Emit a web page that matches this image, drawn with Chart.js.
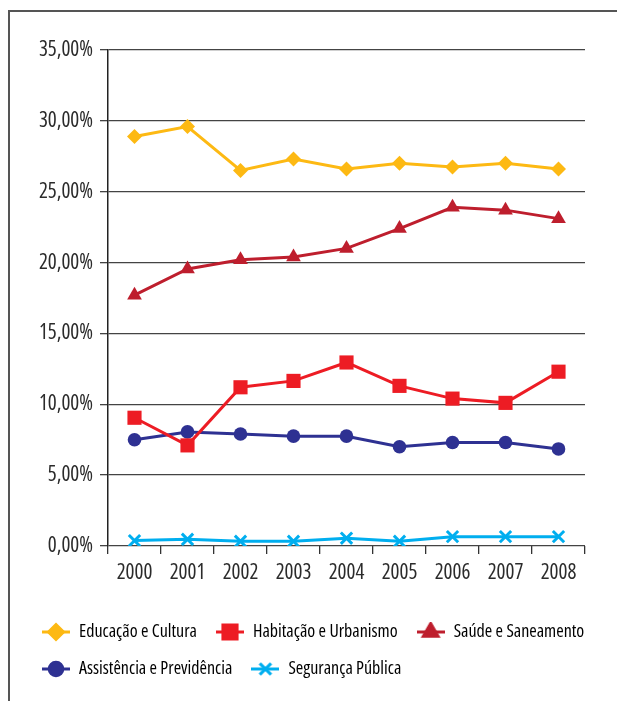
<!DOCTYPE html>
<html>
<head>
<meta charset="utf-8">
<script src="https://cdn.jsdelivr.net/npm/chart.js@4/dist/chart.umd.min.js"></script>
<style>
  body { margin: 0; background: #fff; }
  .wrap { position: relative; width: 617px; height: 701px; }
  .frame { position: absolute; left: 8px; top: 10px; right: 0; bottom: 0; border-left: 2px solid #555; border-top: 2px solid #555; }
  canvas { position: absolute; left: 0; top: 0; }
</style>
</head>
<body>
<div class="wrap">
  <div class="frame"></div>
  <canvas id="grafico" width="617" height="701"></canvas>
</div>
<script>
const anos = ['2000', '2001', '2002', '2003', '2004', '2005', '2006', '2007', '2008']
const educacao = [28.9, 29.6, 26.5, 27.3, 26.6, 27.0, 26.75, 27.0, 26.6]
const habitacao = [9.05, 7.1, 11.2, 11.65, 12.95, 11.3, 10.4, 10.1, 12.3]
const saude = [17.7, 19.55, 20.2, 20.4, 21.0, 22.4, 23.9, 23.7, 23.1]
const assistencia = [7.5, 8.05, 7.9, 7.75, 7.75, 7.0, 7.3, 7.3, 6.85]
const seguranca = [0.38, 0.47, 0.33, 0.33, 0.55, 0.33, 0.66, 0.66, 0.66]
const fonte = "'Open Sans', 'Roboto Condensed', sans-serif"

function serie(label, data, cor, estilo, raio){
    return {
        label: label, data: data,
        borderColor: cor, backgroundColor: cor,
        borderWidth: 3, tension: 0, fill: false,
        pointStyle: estilo, pointRadius: raio, pointHoverRadius: raio,
        pointBackgroundColor: cor, pointBorderColor: cor,
        pointBorderWidth: estilo == 'crossRot' ? 3 : 0
    }
}

// imagem da legenda: linha + marcador
function iconeLegenda(ds){
    const c = document.createElement('canvas')
    c.width = 28; c.height = 20
    const ctx = c.getContext('2d')
    ctx.strokeStyle = ds.borderColor; ctx.fillStyle = ds.borderColor
    ctx.lineWidth = 3
    ctx.beginPath(); ctx.moveTo(0, 10); ctx.lineTo(28, 10); ctx.stroke()
    ctx.lineWidth = ds.pointStyle == 'crossRot' ? 3 : 0
    Chart.helpers.drawPoint(ctx, {pointStyle: ds.pointStyle, radius: ds.pointRadius, rotation: 0, borderWidth: ctx.lineWidth}, 14, 10)
    return c
}

const graph = new Chart(document.getElementById('grafico').getContext('2d'), {
    type: 'line',
    data: {
        labels: anos,
        datasets: [
            serie('Educação e Cultura', educacao, '#FDB913', 'rectRot', 7.5),
            serie('Habitação e Urbanismo', habitacao, '#ED1C24', 'rect', 10),
            serie('Saúde e Saneamento', saude, '#BE1E2D', 'triangle', 8.5),
            serie('Assistência e Previdência', assistencia, '#2E3192', 'circle', 6.8),
            serie('Segurança Pública', seguranca, '#00AEEF', 'crossRot', 8)
        ]
    },
    options: {
        responsive: false,
        animation: false,
        layout: { padding: { left: 23, right: 0, top: 50, bottom: 13 } },
        plugins: {
            tooltip: { enabled: false },
            legend: {
                position: 'bottom',
                align: 'start',
                labels: {
                    usePointStyle: true,
                    pointStyleWidth: 28,
                    padding: 19,
                    color: '#2b2b2b',
                    font: { family: fonte, size: 18, weight: 'condensed' },
                    generateLabels: function(chart){
                        return chart.data.datasets.map((ds, i) => ({
                            text: ds.label, datasetIndex: i,
                            fillStyle: ds.borderColor, strokeStyle: ds.borderColor,
                            lineWidth: 0, hidden: false,
                            pointStyle: iconeLegenda(ds)
                        }))
                    }
                }
            }
        },
        scales: {
            x: {
                offset: true,
                grid: { display: true, drawOnChartArea: false, offset: true, tickLength: 8, color: '#333', lineWidth: 1.3 },
                border: { display: false },
                ticks: { color: '#2b2b2b', padding: 6, font: { family: fonte, size: 21, weight: 'condensed' }, maxRotation: 0 },
                afterFit: function(s){ s.height = 58 }
            },
            y: {
                min: 0, max: 35,
                grid: { color: '#444', lineWidth: 1.3, tickLength: 8 },
                border: { display: true, color: '#222', width: 1.5 },
                ticks: {
                    stepSize: 5, padding: 7, color: '#2b2b2b',
                    font: { family: fonte, size: 21, weight: 'condensed' },
                    callback: v => v.toFixed(2).replace('.', ',') + '%'
                },
                afterFit: function(s){ s.width = 85 }
            },
            direita: {
                type: 'linear', position: 'right', display: true,
                grid: { display: false }, border: { display: false },
                ticks: { display: false },
                afterFit: function(s){ s.width = 32 }
            }
        }
    }
})
</script>
</body>
</html>
